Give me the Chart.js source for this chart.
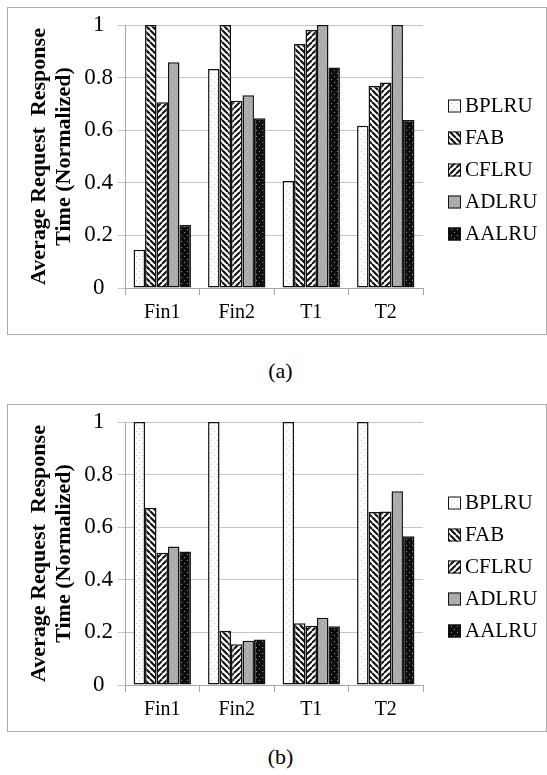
<!DOCTYPE html>
<html><head><meta charset="utf-8">
<script src="https://cdn.jsdelivr.net/npm/chart.js@4.4.0/dist/chart.umd.min.js"></script>
<style>
html,body{margin:0;padding:0;background:#fff;width:547px;height:775px;overflow:hidden;}
.wrap{position:absolute;left:0;width:547px;height:340px;}
canvas{display:block;}
.cap{position:absolute;left:230px;width:101px;text-align:center;font:22px "Liberation Serif",serif;line-height:26px;color:#000;}
</style></head><body>
<div class="wrap" style="top:0px"><canvas id="ca" width="547" height="340"></canvas></div>
<div class="cap" style="top:358px">(a)</div>
<div class="wrap" style="top:397px"><canvas id="cb" width="547" height="340"></canvas></div>
<div class="cap" style="top:744px">(b)</div>
<script>
// ---- data ----
const categories = ['Fin1', 'Fin2', 'T1', 'T2'];
const seriesNames = ['BPLRU', 'FAB', 'CFLRU', 'ADLRU', 'AALRU'];
const yTicks = [0, 0.2, 0.4, 0.6, 0.8, 1];
const yTickLabels = ['0', '0.2', '0.4', '0.6', '0.8', '1'];
const yTitle = ['Average Request  Response', 'Time (Normalized)'];
// chart (a)
const a_BPLRU = [0.145, 0.833, 0.407, 0.617];
const a_FAB   = [1.0, 1.0, 0.928, 0.768];
const a_CFLRU = [0.706, 0.712, 0.981, 0.781];
const a_ADLRU = [0.858, 0.733, 1.0, 1.0];
const a_AALRU = [0.24, 0.645, 0.838, 0.639];
// chart (b)
const b_BPLRU = [1.0, 1.0, 1.0, 1.0];
const b_FAB   = [0.674, 0.206, 0.235, 0.658];
const b_CFLRU = [0.503, 0.155, 0.225, 0.66];
const b_ADLRU = [0.527, 0.168, 0.256, 0.737];
const b_AALRU = [0.508, 0.173, 0.223, 0.566];

const FONT = '"Liberation Serif", serif';
Chart.defaults.font.family = FONT;

function makePattern(kind) {
  const c = document.createElement('canvas');
  const s = 6;
  c.width = s; c.height = s;
  const g = c.getContext('2d');
  if (kind === 'dotsLight') {
    g.fillStyle = '#ffffff'; g.fillRect(0, 0, s, s);
    g.fillStyle = '#a9c6e6';
    g.fillRect(1, 1, 1, 1); g.fillRect(4, 4, 1, 1);
  } else if (kind === 'back') {
    g.fillStyle = '#ffffff'; g.fillRect(0, 0, s, s);
    g.strokeStyle = '#111'; g.lineWidth = 2.2;
    g.beginPath();
    for (let k = -1; k <= 1; k++) { g.moveTo(k * s, 0); g.lineTo(k * s + s, s); }
    g.stroke();
  } else if (kind === 'fwd') {
    g.fillStyle = '#ffffff'; g.fillRect(0, 0, s, s);
    g.strokeStyle = '#111'; g.lineWidth = 2.0;
    g.beginPath();
    for (let k = -1; k <= 1; k++) { g.moveTo(k * s, s); g.lineTo(k * s + s, 0); }
    g.stroke();
  } else if (kind === 'gray') {
    g.fillStyle = '#ababab'; g.fillRect(0, 0, s, s);
    g.fillStyle = '#c6c6c6';
    g.fillRect(1, 1, 1, 1); g.fillRect(4, 4, 1, 1);
  } else if (kind === 'black') {
    g.fillStyle = '#0d0d0d'; g.fillRect(0, 0, s, s);
    g.fillStyle = '#8a8a8a';
    g.fillRect(1, 1, 1, 1); g.fillRect(4, 4, 1, 1);
  }
  return g.createPattern(c, 'repeat');
}
const patterns = [makePattern('dotsLight'), makePattern('back'), makePattern('fwd'), makePattern('gray'), makePattern('black')];

const boxPlugin = {
  id: 'frameBox',
  beforeDraw(chart) {
    const ctx = chart.ctx;
    ctx.save();
    ctx.strokeStyle = '#adadad'; ctx.lineWidth = 1;
    ctx.strokeRect(7.5, 7.5, 539, 327);
    ctx.restore();
  }
};

const legendPlugin = {
  id: 'sideLegend',
  afterDraw(chart, args, opts) {
    const ctx = chart.ctx;
    ctx.save();
    chart.data.datasets.forEach((ds, i) => {
      const y = opts.top + i * opts.spacing;
      const bx = opts.x, b = opts.box;
      ctx.fillStyle = ds.backgroundColor;
      ctx.fillRect(bx, y - b / 2, b, b);
      ctx.strokeStyle = '#111'; ctx.lineWidth = 1;
      ctx.strokeRect(bx + 0.5, y - b / 2 + 0.5, b - 1, b - 1);
      ctx.fillStyle = '#000';
      ctx.font = opts.fontSize + 'px ' + FONT;
      ctx.textBaseline = 'middle'; ctx.textAlign = 'left';
      ctx.fillText(ds.label, bx + b + 4, y);
    });
    ctx.restore();
  }
};

function buildChart(id, arrays) {
  return new Chart(document.getElementById(id), {
    type: 'bar',
    data: {
      labels: categories,
      datasets: seriesNames.map((n, i) => ({
        label: n, data: arrays[i],
        backgroundColor: patterns[i], borderColor: '#111', borderWidth: 1.5,
        borderSkipped: false, categoryPercentage: 0.77, barPercentage: 1
      }))
    },
    options: {
      responsive: false, animation: false, devicePixelRatio: 1,
      layout: { padding: { left: 0, top: 25, right: 124, bottom: 0 } },
      plugins: {
        legend: { display: false }, tooltip: { enabled: false },
        sideLegend: { x: 448, top: 106, spacing: 32, box: 13, fontSize: 21 }
      },
      scales: {
        x: {
          grid: { display: true, drawOnChartArea: false, drawTicks: true, tickLength: 7, color: '#a6a6a6', offset: true },
          border: { color: '#a6a6a6' },
          ticks: { font: { size: 20 }, color: '#000', padding: 6 },
          afterFit(s) { s.height = 52; }
        },
        y: {
          min: 0, max: 1,
          afterBuildTicks(s) { s.ticks = yTicks.map(v => ({ value: v })); },
          grid: { color: '#c4c4c4', tickLength: 7 },
          border: { color: '#a6a6a6' },
          ticks: { font: { size: 23 }, color: '#000', padding: 5, crossAlign: 'center',
                   callback: (v, i) => yTickLabels[i] },
          title: { display: true, text: yTitle, color: '#000',
                   font: { size: 22, weight: 'bold', lineHeight: 25 / 22 },
                   padding: { top: 26.5, bottom: 0 } },
          afterFit(s) { s.width = 125; }
        }
      }
    },
    plugins: [boxPlugin, legendPlugin]
  });
}

buildChart('ca', [a_BPLRU, a_FAB, a_CFLRU, a_ADLRU, a_AALRU]);
buildChart('cb', [b_BPLRU, b_FAB, b_CFLRU, b_ADLRU, b_AALRU]);
</script>
</body></html>
